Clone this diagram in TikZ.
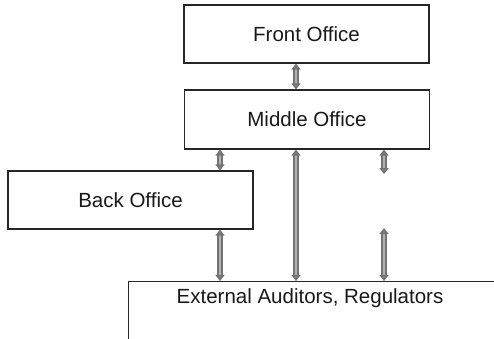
\documentclass[tikz,border=0pt]{standalone}
\usepackage{fontspec}
\setmainfont{Liberation Sans}
\usetikzlibrary{arrows.meta,positioning}

\tikzset{
  officebox/.style={draw=black!85, line width=1.1pt, minimum width=245pt, minimum height=58pt, text=black!90, font=\fontsize{20.5}{24}\selectfont},
  linkarrow/.style={{Triangle[length=6pt,width=9pt,fill=black!50]}-{Triangle[length=6pt,width=9pt,fill=black!50]}, draw=black!55, double=black!30, double distance=2.4pt, line width=1.4pt}
}

\begin{document}
\begin{tikzpicture}[x=1pt,y=-1pt]
\useasboundingbox (0,0) rectangle (494,339);
\clip (0,0) rectangle (494,339);

% offices
\node[officebox] (front) at (306.5,34) {Front Office};
\node[officebox, minimum height=59pt] (middle) at (307,119.5) {Middle Office};
\node[officebox] (back) at (130.5,200) {Back Office};
\node[officebox, anchor=north west, minimum width=420pt, minimum height=100pt] (ext) at (128,281) {};
\node[text=black!90, font=\fontsize{20.5}{24}\selectfont] (extlabel) at (310,298) {External Auditors, Regulators};

% columns for the links
\coordinate (colA) at (220,0);
\coordinate (colB) at (296,0);
\coordinate (colC) at (384,0);
\coordinate (freeup) at (384,174);
\coordinate (freedown) at (384,228);

\draw[linkarrow] (colB |- front.south) -- (colB |- middle.north);
\draw[linkarrow] (colA |- middle.south) -- (colA |- back.north);
\draw[linkarrow] (colB |- middle.south) -- (colB |- ext.north);
\draw[linkarrow] (colC |- middle.south) -- (freeup);
\draw[linkarrow] (freedown) -- (colC |- ext.north);
\draw[linkarrow] (colA |- back.south) -- (colA |- ext.north);
\end{tikzpicture}
\end{document}
